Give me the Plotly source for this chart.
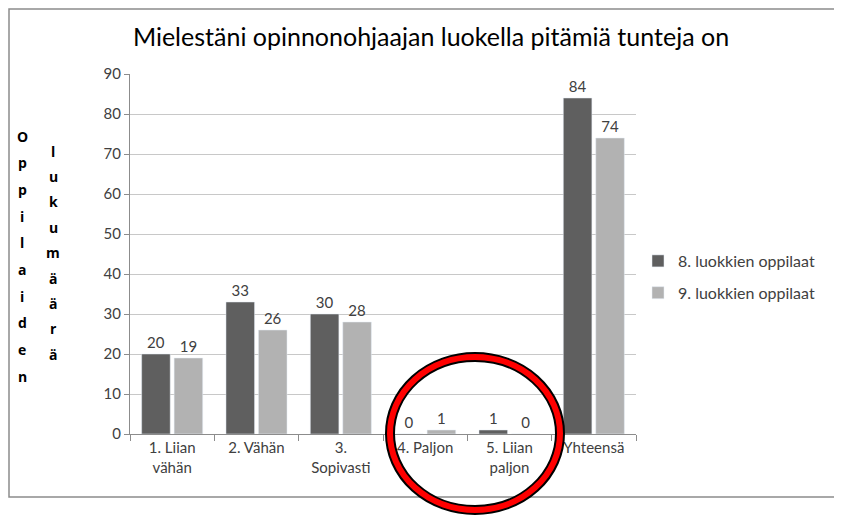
import plotly.graph_objects as go

categories = ["1. Liian<br>vähän", "2. Vähän", "3.<br>Sopivasti", "4. Paljon", "5. Liian<br>paljon", "Yhteensä"]
grade8 = [20, 33, 30, 0, 1, 84]
grade9 = [19, 26, 28, 1, 0, 74]
series_names = ["8. luokkien oppilaat", "9. luokkien oppilaat"]
title_text = "Mielestäni opinnonohjaajan luokella pitämiä tunteja on"
ytitle1 = "Oppilaiden"
ytitle2 = "lukumäärä"

W, H = 842, 520
OFF = 8  # page body margin of the browser
L, R, T, B = 130 - OFF, 636 - OFF, 74 - OFF, 434 - OFF  # plot area in figure px

def px(x):
    return (x - OFF - L) / (R - L)

def py(y):
    return (B - (y - OFF)) / (B - T)

FONT = "Lato"
TXT = "#404040"

fig = go.Figure()
fig.add_trace(go.Bar(x=categories, y=grade8, name=series_names[0], marker_color="#5f5f5f",
                     text=grade8, textposition="outside", textfont=dict(size=15, color=TXT, family=FONT),
                     cliponaxis=False, legendgroup="a"))
fig.add_trace(go.Bar(x=categories, y=grade9, name=series_names[1], marker_color="#b2b2b2",
                     text=grade9, textposition="outside", textfont=dict(size=15, color=TXT, family=FONT),
                     cliponaxis=False, legendgroup="b"))

annotations = []
def stack(word, xpix, ytop, step):
    for i, ch in enumerate(word):
        annotations.append(dict(text="<b>%s</b>" % ch, xref="paper", yref="paper",
                                x=px(xpix), y=py(ytop + i * step), showarrow=False,
                                xanchor="center", yanchor="middle",
                                font=dict(size=14, color="#000000", family="Open Sans")))
stack(ytitle1, 22, 136, 26.7)
stack(ytitle2, 53, 151, 25.4)

shapes = [
    dict(type="rect", xref="paper", yref="paper", x0=px(OFF + 1), x1=px(837), y0=py(497), y1=py(OFF + 1),
         line=dict(color="#8c8c8c", width=1.5), layer="below"),
    dict(type="circle", xref="paper", yref="paper", x0=px(390), x1=px(560), y0=py(510), y1=py(357),
         line=dict(color="#000000", width=10), layer="above"),
    dict(type="circle", xref="paper", yref="paper", x0=px(390), x1=px(560), y0=py(510), y1=py(357),
         line=dict(color="#ff0000", width=6), layer="above"),
]

fig.update_layout(
    width=W, height=H,
    margin=dict(l=L, r=W - R, t=T, b=H - B),
    paper_bgcolor="white", plot_bgcolor="white",
    barmode="group", bargap=0.23, bargroupgap=0.12,
    title=dict(text=title_text, x=(431 - OFF) / W, xanchor="center", y=1 - (37 - OFF) / H, yanchor="middle",
               font=dict(size=25, color="#000000", family=FONT)),
    font=dict(family=FONT, color=TXT, size=15),
    legend=dict(x=px(638), y=py(277), xanchor="left", yanchor="middle",
                font=dict(size=16, color=TXT, family=FONT), traceorder="grouped",
                tracegroupgap=8, itemwidth=30, bgcolor="rgba(0,0,0,0)"),
    annotations=annotations,
    shapes=shapes,
    showlegend=True,
)
fig.update_xaxes(showline=True, linecolor="#8c8c8c", linewidth=1, ticks="outside", tickson="boundaries",
                 ticklen=6, tickcolor="#8c8c8c", tickfont=dict(size=15, color=TXT, family=FONT),
                 showgrid=False)
fig.update_yaxes(range=[0, 90], dtick=10, showline=True, linecolor="#8c8c8c", linewidth=1,
                 ticks="outside", ticklen=5, tickcolor="#8c8c8c", showgrid=True, gridcolor="#c8c8c8",
                 tickfont=dict(size=15, color=TXT, family=FONT), zeroline=False)

fig.write_html("out.html")
